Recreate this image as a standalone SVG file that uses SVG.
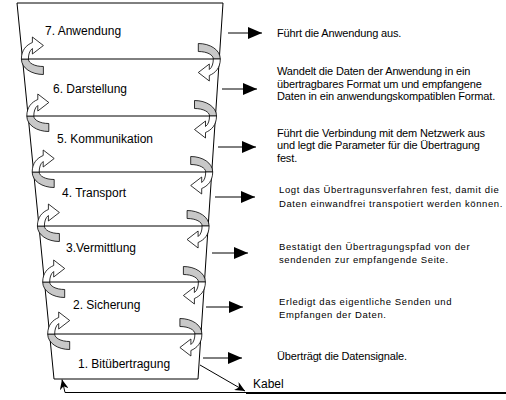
<svg xmlns="http://www.w3.org/2000/svg" width="506" height="400" viewBox="0 0 506 400">
<style>
.lbl{font-family:"Liberation Sans",Arial,sans-serif;font-size:12px;fill:#000}
.dsc{font-family:"Liberation Sans",Arial,sans-serif;font-size:11px;fill:#000;letter-spacing:-0.15px}
.dsc2{font-family:"Liberation Sans",Arial,sans-serif;font-size:9.5px;fill:#000;letter-spacing:0.6px}
.ln{stroke:#000;stroke-width:1;fill:none}
.gray{fill:#c8c8c8;stroke:#000;stroke-width:0.8}
.white{fill:#fff;stroke:#000;stroke-width:0.8}
</style>
<defs>
<marker id="big" markerUnits="userSpaceOnUse" markerWidth="14" markerHeight="12" refX="14" refY="6" orient="auto">
<path d="M0,0 L14,6 L0,12 Z" fill="#000"/>
</marker>
<marker id="small" markerUnits="userSpaceOnUse" markerWidth="10" markerHeight="9" refX="10" refY="4.5" orient="auto">
<path d="M0,0 L10,4.5 L0,9 L3,4.5 Z" fill="#000"/>
</marker>
<g id="curl">
<path class="gray" d="M-1,0 C-1,9 9,15.5 21,15.5 L21,7.5 C12,7.5 6,4 6,0 Z"/>
<path class="white" d="M-1,0 C-1,-9 4,-14 10,-16.5 L10,-22 L21,-13.5 L10,-5 L10,-10.5 C7,-8.5 6,-4 6,0 Z"/>
</g>
</defs>
<rect width="506" height="400" fill="#fff"/>

<g id="stack">
<path d="M17,3 L223,3 L198,379 L54,379 Z" fill="#fff" stroke="#000" stroke-width="1"/>
<line class="ln" x1="22.4" y1="59" x2="219.3" y2="59"/>
<line class="ln" x1="27.8" y1="116" x2="215.5" y2="116"/>
<line class="ln" x1="33.2" y1="172" x2="211.7" y2="172"/>
<line class="ln" x1="38.4" y1="226" x2="208.1" y2="226"/>
<line class="ln" x1="43.7" y1="282" x2="204.4" y2="282"/>
<line class="ln" x1="48.7" y1="334" x2="200.9" y2="334"/>
</g>

<g id="curls">
<use href="#curl" transform="translate(22.4,59)"/>
<use href="#curl" transform="translate(219.3,59) rotate(180)"/>
<use href="#curl" transform="translate(27.8,116)"/>
<use href="#curl" transform="translate(215.5,116) rotate(180)"/>
<use href="#curl" transform="translate(33.2,172)"/>
<use href="#curl" transform="translate(211.7,172) rotate(180)"/>
<use href="#curl" transform="translate(38.4,226)"/>
<use href="#curl" transform="translate(208.1,226) rotate(180)"/>
<use href="#curl" transform="translate(43.7,282)"/>
<use href="#curl" transform="translate(204.4,282) rotate(180)"/>
<use href="#curl" transform="translate(48.7,334)"/>
<use href="#curl" transform="translate(200.9,334) rotate(180)"/>
</g>

<g id="layer7"><text class="lbl" x="45" y="35">7. Anwendung</text></g>
<g id="layer6"><text class="lbl" x="53" y="93">6. Darstellung</text></g>
<g id="layer5"><text class="lbl" x="57" y="143">5. Kommunikation</text></g>
<g id="layer4"><text class="lbl" x="62" y="197">4. Transport</text></g>
<g id="layer3"><text class="lbl" x="66" y="252">3.Vermittlung</text></g>
<g id="layer2"><text class="lbl" x="73" y="309">2. Sicherung</text></g>
<g id="layer1"><text class="lbl" x="78" y="368">1. Bitübertragung</text></g>

<g id="desc7"><text class="dsc" x="277" y="37">Führt die Anwendung aus.</text></g>
<g id="desc6">
<text class="dsc" x="277" y="75">Wandelt die Daten der Anwendung in ein</text>
<text class="dsc" x="277" y="87.5">übertragbares Format um und empfangene</text>
<text class="dsc" x="277" y="100">Daten in ein anwendungskompatiblen Format.</text>
</g>
<g id="desc5">
<text class="dsc" x="277" y="136.5">Führt die Verbindung mit dem Netzwerk aus</text>
<text class="dsc" x="277" y="149">und legt die Parameter für die Übertragung</text>
<text class="dsc" x="277" y="161.5">fest.</text>
</g>
<g id="desc4">
<text class="dsc2" x="279" y="193">Logt das Übertragunsverfahren fest, damit die</text>
<text class="dsc2" x="279" y="206.5">Daten einwandfrei transpotiert werden können.</text>
</g>
<g id="desc3">
<text class="dsc2" x="279" y="250">Bestätigt den Übertragungspfad von der</text>
<text class="dsc2" x="279" y="263">sendenden zur empfangende Seite.</text>
</g>
<g id="desc2">
<text class="dsc2" x="279" y="305">Erledigt das eigentliche Senden und</text>
<text class="dsc2" x="279" y="318">Empfangen der Daten.</text>
</g>
<g id="desc1"><text class="dsc" x="277" y="360">Überträgt die Datensignale.</text></g>

<g id="kabel">
<line x1="246" y1="393" x2="506" y2="393" stroke="#000" stroke-width="2"/>
<text class="lbl" x="253" y="388">Kabel</text>
</g>

<g id="connectors">
<line class="ln" x1="228" y1="33" x2="262" y2="33" marker-end="url(#big)"/>
<line class="ln" x1="222" y1="89" x2="257" y2="89" marker-end="url(#big)"/>
<line class="ln" x1="218" y1="147" x2="256" y2="147" marker-end="url(#big)"/>
<line class="ln" x1="215" y1="197" x2="255" y2="197" marker-end="url(#big)"/>
<line class="ln" x1="212" y1="253" x2="248" y2="253" marker-end="url(#big)"/>
<line class="ln" x1="206" y1="307" x2="243" y2="307" marker-end="url(#big)"/>
<line class="ln" x1="203" y1="358" x2="242" y2="358" marker-end="url(#big)"/>
<line class="ln" x1="200" y1="365" x2="245" y2="391" marker-end="url(#small)"/>
<polyline class="ln" points="246,392.5 65,392.5 62,379.5" marker-end="url(#small)"/>
</g>
</svg>
